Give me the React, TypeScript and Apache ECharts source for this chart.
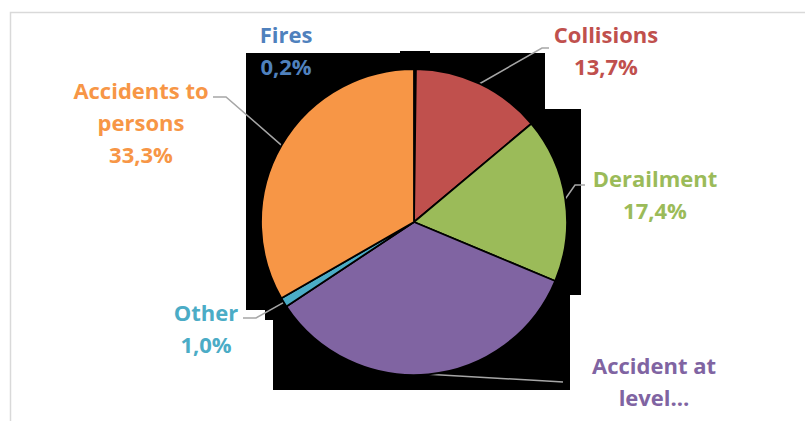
import React, { useEffect, useRef } from "react";
import * as echarts from "echarts";

// Data
const categories = ["Fires", "Collisions", "Derailment", "Accident at level…", "Other", "Accidents to persons"];
const labelNames = ["Fires", "Collisions", "Derailment", "Accident at\nlevel…", "Other", "Accidents to\npersons"];
const showPercent = [true, true, true, false, true, true];
const values = [0.2, 13.7, 17.4, 34.4, 1.0, 33.3];
const colors = ["#4F81BD", "#C0504D", "#9BBB59", "#8064A2", "#4BACC6", "#F79646"];

// Layout (label centers and leader-line bends/ends)
const labelLayoutSpec: { x: number; y: number; pts: number[][] | null }[] = [
  { x: 286, y: 50, pts: null },
  { x: 606, y: 50, pts: [[542, 48], [549, 48]] },
  { x: 655, y: 194, pts: [[575, 185], [585, 185]] },
  { x: 654, y: 381, pts: [[555, 381.5], [563, 382]] },
  { x: 206, y: 328, pts: [[256, 318], [243, 318]] },
  { x: 141, y: 122, pts: [[226, 97], [213, 97]] },
];

const blackRects = [
  [246, 53, 299, 56],
  [400, 51, 30, 4],
  [246, 109, 335, 186],
  [246, 295, 324, 15],
  [265, 310, 305, 10],
  [273, 320, 297, 70],
];

export default function App() {
  const ref = useRef<HTMLDivElement>(null);
  useEffect(() => {
    if (!ref.current) return;
    const chart = echarts.init(ref.current, undefined, { renderer: "svg" });
    const graphic: any[] = [
      {
        type: "rect",
        z: 0,
        shape: { x: 10.5, y: 12.5, width: 900, height: 500 },
        style: { fill: "#fff", stroke: "#D9D9D9", lineWidth: 1.5 },
      },
      ...blackRects.map((r) => ({
        type: "rect",
        z: 1,
        shape: { x: r[0], y: r[1], width: r[2], height: r[3] },
        style: { fill: "#000" },
      })),
    ];
    chart.setOption({
      animation: false,
      backgroundColor: "#fff",
      graphic,
      series: [
        {
          type: "pie",
          z: 5,
          center: [414, 222],
          radius: 153,
          startAngle: 90,
          clockwise: true,
          avoidLabelOverlap: false,
          itemStyle: { borderColor: "#000", borderWidth: 1.8 },
          label: {
            show: true,
            position: "outside",
            fontFamily: "Open Sans",
            fontWeight: "bold",
            fontSize: 22,
            lineHeight: 32,
            align: "center",
            formatter: (p: any) =>
              labelNames[p.dataIndex] +
              (showPercent[p.dataIndex]
                ? "\n" + values[p.dataIndex].toFixed(1).replace(".", ",") + "%"
                : ""),
          },
          labelLine: { show: true, lineStyle: { color: "#A6A6A6", width: 1.5 } },
          labelLayout: (params: any) => {
            const s = labelLayoutSpec[params.dataIndex];
            const out: any = { x: s.x, y: s.y, align: "center", verticalAlign: "middle" };
            if (s.pts && params.labelLinePoints) {
              out.labelLinePoints = [params.labelLinePoints[0], s.pts[0], s.pts[1]];
            }
            return out;
          },
          data: categories.map((name, i) => ({
            name,
            value: values[i],
            itemStyle: { color: colors[i] },
            label: { color: colors[i] },
            labelLine: { show: i !== 0 },
          })),
        },
      ],
    });
    return () => chart.dispose();
  }, []);
  return (
    <div
      ref={ref}
      style={{ position: "fixed", left: 0, top: 0, width: 805, height: 421 }}
    />
  );
}
